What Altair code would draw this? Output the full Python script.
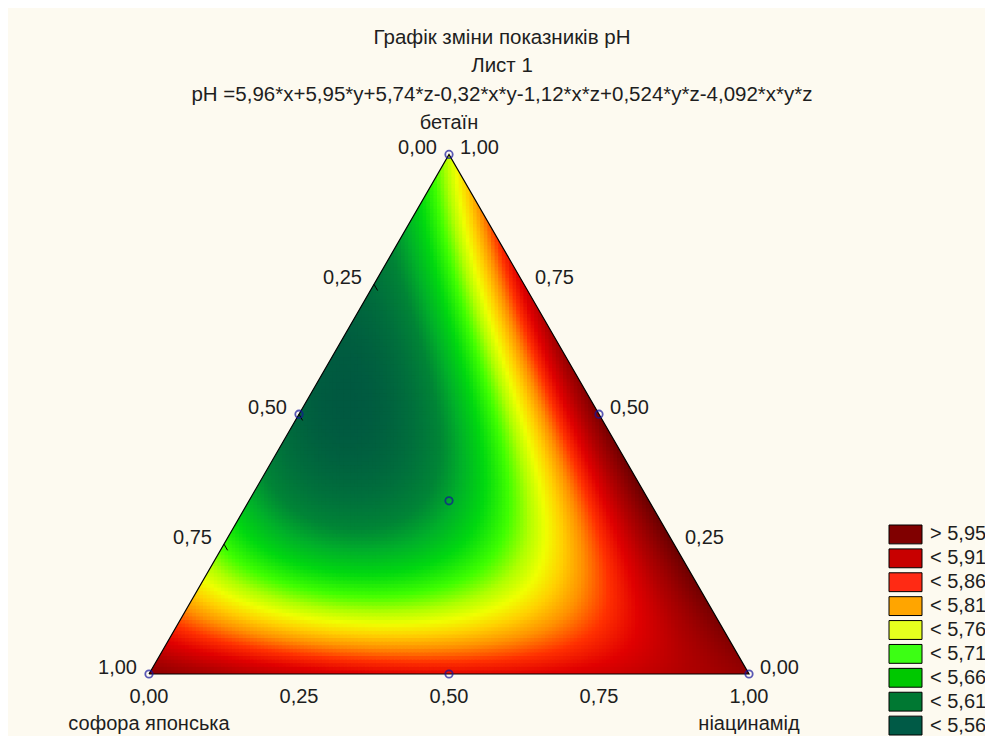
import numpy as np
import pandas as pd
import altair as alt

# ---------------- data ----------------
title_lines = ["Графік зміни показників pH", "Лист 1",
               "pH =5,96*x+5,95*y+5,74*z-0,32*x*y-1,12*x*z+0,524*y*z-4,092*x*y*z"]
# model coefficients as printed in the title (x = софора, y = ніацинамід, z = бетаїн)
coef_terms = ["x", "y", "z", "xy", "xz", "yz", "xyz"]
coef_values = [5.96, 5.95, 5.74, -0.32, -1.12, 0.524, -4.092]

axis_names = ["софора японська", "ніацинамід", "бетаїн"]
tick_values = [0.0, 0.25, 0.5, 0.75, 1.0]
tick_labels = ["0,00", "0,25", "0,50", "0,75", "1,00"]

# design points (x, y, z)
design_x = [1.0, 0.0, 0.0, 0.5, 0.5, 0.0, 1 / 3]
design_y = [0.0, 1.0, 0.0, 0.5, 0.0, 0.5, 1 / 3]
design_z = [0.0, 0.0, 1.0, 0.0, 0.5, 0.5, 1 / 3]

legend_labels = ["> 5,95", "< 5,91", "< 5,86", "< 5,81", "< 5,76",
                 "< 5,71", "< 5,66", "< 5,61", "< 5,56"]
legend_colors = ["#800000", "#c80000", "#ff2a14", "#ffa500", "#e6ff1e",
                 "#3cff14", "#00c800", "#007832", "#005a46"]

color_stops = [5.55, 5.585, 5.61, 5.635, 5.665, 5.70, 5.73, 5.755, 5.78,
               5.81, 5.845, 5.88, 5.92, 5.96, 5.98]
color_range = ["#005541", "#00703c", "#008536", "#00b02a", "#00d810",
               "#40ff00", "#b0ff00", "#f0ff00", "#ffd000", "#ff9000",
               "#ff3000", "#e00000", "#b00000", "#8a0000", "#780000"]

BG = "#fdfaf0"
FONT = "Liberation Sans"
TXT = "#1e1e1e"
FS = 20
S3 = np.sqrt(3) / 2
W, H = 977, 728


def model(x, y, z):
    c = coef_values
    return (c[0] * x + c[1] * y + c[2] * z + c[3] * x * y + c[4] * x * z
            + c[5] * y * z + c[6] * x * y * z)


def to_uv(x, y, z):
    return y + z / 2.0, z * S3


# ---------------- surface cells ----------------
step = 0.006
uu, vv = np.meshgrid(np.arange(-step, 1 + step, step), np.arange(0, S3 + step, step))
uc = uu + step / 2
vc = vv + step / 2
inside = (vc <= np.sqrt(3) * uc + 2 * step) & (vc <= np.sqrt(3) * (1 - uc) + 2 * step)
uu, vv, uc, vc = uu[inside], vv[inside], uc[inside], vc[inside]
zc = np.clip(vc / S3, 0, 1)
yc = np.clip(uc - zc / 2, 0, 1 - zc)
xc = 1 - yc - zc
vals = model(xc, yc, zc)
cells = pd.DataFrame({
    "u": np.round(uu, 4), "u2": np.round(uu + step * 1.4, 4),
    "v": np.round(vv, 4), "v2": np.round(vv + step * 1.4, 4),
    "val": np.round(vals, 4)})

xs = alt.Scale(domain=[-141 / 600, (W - 141) / 600], range=[0, W], nice=False, zero=False)
ys = alt.Scale(domain=[-(H - 666) / 600, 666 / 600], range=[H, 0], nice=False, zero=False)
cscale = alt.Scale(domain=color_stops, range=color_range, interpolate="rgb")

surface = alt.Chart(cells).mark_rect(strokeWidth=0).encode(
    x=alt.X("u:Q", scale=xs, axis=None), x2="u2",
    y=alt.Y("v:Q", scale=ys, axis=None), y2="v2",
    color=alt.Color("val:Q", scale=cscale, legend=None))


def edge(u):
    return np.minimum(np.sqrt(3) * u, np.sqrt(3) * (1 - u))


mu_l = np.array([-0.03, 0.0, 0.5, 0.52])
mu_r = np.array([0.48, 0.5, 1.0, 1.03])
mask_l = pd.DataFrame({"u": mu_l, "lo": edge(mu_l), "hi": 0.95})
mask_r = pd.DataFrame({"u": mu_r, "lo": edge(mu_r), "hi": 0.95})
mask_b = pd.DataFrame({"u": [-0.03, 1.03], "lo": [-0.03, -0.03], "hi": [0.0, 0.0]})


def mask(df):
    return alt.Chart(df).mark_area(color=BG, opacity=1).encode(
        x=alt.X("u:Q", scale=xs, axis=None),
        y=alt.Y("lo:Q", scale=ys, axis=None), y2="hi")


# outline
ox, oy = to_uv(np.array([1.0, 0.0, 0.0, 1.0]), np.array([0.0, 0.0, 1.0, 0.0]),
               np.array([0.0, 1.0, 0.0, 0.0]))
outline_df = pd.DataFrame({"u": ox, "v": oy, "o": range(4)})
outline = alt.Chart(outline_df).mark_line(color="#000000", strokeWidth=1.2).encode(
    x=alt.X("u:Q", scale=xs, axis=None), y=alt.Y("v:Q", scale=ys, axis=None),
    order="o:O")

# tick marks (left axis only, as visible in the reference)
tv = np.array(tick_values[1:-1])
L = 0.012
tl_u, tl_v = (1 - tv) / 2, (1 - tv) * S3
ticks_df = pd.DataFrame({"u": tl_u, "v": tl_v,
                         "u2": tl_u + 0.5 * L, "v2": tl_v - S3 * L})
ticks = alt.Chart(ticks_df).mark_rule(color="#000000", strokeWidth=1).encode(
    x=alt.X("u:Q", scale=xs, axis=None), y=alt.Y("v:Q", scale=ys, axis=None),
    x2="u2", y2="v2")

# design points
du, dv = to_uv(np.array(design_x), np.array(design_y), np.array(design_z))
pts = alt.Chart(pd.DataFrame({"u": du, "v": dv})).mark_point(
    shape="circle", filled=False, size=55, stroke="#14149c", strokeWidth=1.8).encode(
    x=alt.X("u:Q", scale=xs, axis=None), y=alt.Y("v:Q", scale=ys, axis=None))

# tick labels
tvals = np.array(tick_values)
lab_left = pd.DataFrame({"u": (1 - tvals) / 2, "v": (1 - tvals) * S3, "t": tick_labels})
lab_right = pd.DataFrame({"u": 1 - tvals / 2, "v": tvals * S3, "t": tick_labels})
lab_bottom = pd.DataFrame({"u": tvals, "v": tvals * 0, "t": tick_labels})


def labels(df, **kw):
    return alt.Chart(df).mark_text(font=FONT, fontSize=FS, color=TXT,
                                   baseline="middle", **kw).encode(
        x=alt.X("u:Q", scale=xs, axis=None), y=alt.Y("v:Q", scale=ys, axis=None),
        text="t:N")


names_df = pd.DataFrame({"u": [0.0], "v": [0.0], "t": [axis_names[0]]})
names_df2 = pd.DataFrame({"u": [1.0], "v": [0.0], "t": [axis_names[1]]})
names_df3 = pd.DataFrame({"u": [0.5], "v": [S3], "t": [axis_names[2]]})

main = alt.layer(
    surface, mask(mask_l), mask(mask_r), mask(mask_b), outline, ticks, pts,
    labels(lab_left, align="right", dx=-12, dy=-6),
    labels(lab_right, align="left", dx=11, dy=-6),
    labels(lab_bottom, align="center", dy=23),
    labels(names_df, align="center", dy=50),
    labels(names_df2, align="center", dy=50),
    labels(names_df3, align="center", dy=-31),
)

# title lines
title_y = [30, 58, 87]
titles = [alt.Chart(pd.DataFrame({"t": [line]})).mark_text(
    font=FONT, fontSize=20.5, color=TXT, align="center", baseline="middle").encode(
    x=alt.value(494), y=alt.value(yy), text="t:N") for line, yy in zip(title_lines, title_y)]

# legend
leg_df = pd.DataFrame({"lab": legend_labels, "col": legend_colors})
leg_y = alt.Y("lab:N", sort=legend_labels, axis=None,
              scale=alt.Scale(range=[517, 727], paddingInner=0.21, paddingOuter=0))
leg_rect = alt.Chart(leg_df).mark_rect(stroke="#000000", strokeWidth=1).encode(
    x=alt.value(881), x2=alt.value(914), y=leg_y,
    fill=alt.Color("col:N", scale=None))
leg_text = alt.Chart(leg_df).mark_text(font=FONT, fontSize=FS, color=TXT,
                                       align="left", baseline="middle").encode(
    x=alt.value(922), y=leg_y, text="lab:N")
legend = alt.layer(leg_rect, leg_text)

chart = alt.layer(main, legend, *titles).resolve_scale(y="independent").properties(
    width=W, height=H, background=BG, padding=0,
    autosize=alt.AutoSizeParams(type="none")
).configure_view(stroke=None)

chart.save("out.html", embed_options={"renderer": "svg", "actions": False})
